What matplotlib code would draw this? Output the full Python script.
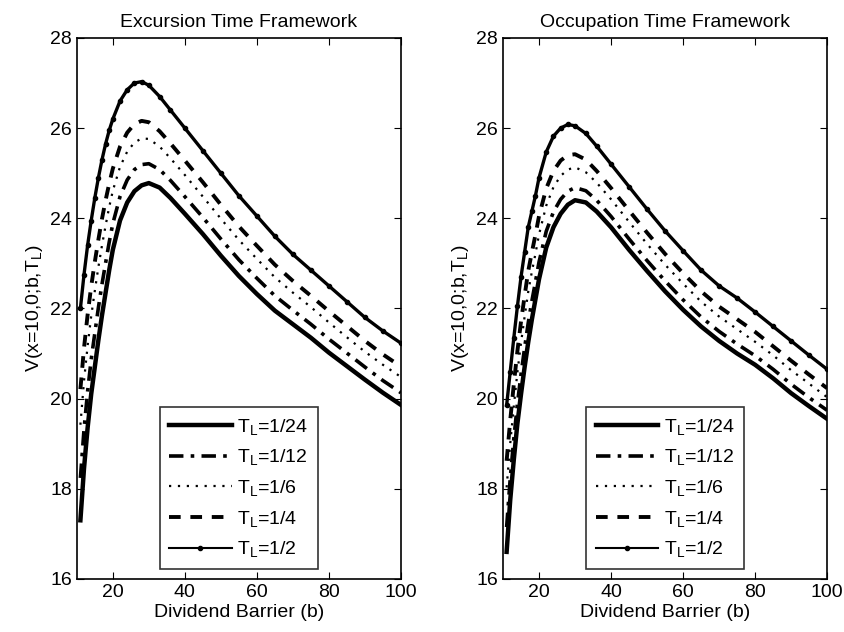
import matplotlib
matplotlib.use("Agg")
import matplotlib.pyplot as plt

plt.rcParams['font.family'] = ['Liberation Sans', 'DejaVu Sans']
plt.rcParams['mathtext.fontset'] = 'custom'
plt.rcParams['mathtext.rm'] = 'Liberation Sans'
plt.rcParams['mathtext.it'] = 'Liberation Sans:italic'

# dividend barrier values (x axis)
barrier = [11, 12, 13, 14, 15, 16, 17, 18, 19, 20, 22, 24, 26, 28, 30, 33, 36,
           40, 45, 50, 55, 60, 65, 70, 75, 80, 85, 90, 95, 100]

labels = ['1/24', '1/12', '1/6', '1/4', '1/2']

# excursion time framework, one list per T_L
exc_24 = [17.3, 18.45, 19.35, 20.1, 20.7, 21.3, 21.85, 22.35, 22.85, 23.3, 23.95, 24.35,
          24.6, 24.73, 24.78, 24.68, 24.45, 24.1, 23.65, 23.17, 22.72, 22.32, 21.95, 21.65,
          21.35, 21.02, 20.72, 20.42, 20.13, 19.86]
exc_12 = [18.24, 19.31, 20.16, 20.87, 21.45, 22.02, 22.54, 23.01, 23.47, 23.88, 24.48, 24.85,
          25.08, 25.19, 25.21, 25.08, 24.84, 24.48, 24.02, 23.54, 23.08, 22.67, 22.28, 21.96,
          21.65, 21.32, 21.01, 20.7, 20.4, 20.13]
exc_6 = [19.42, 20.39, 21.17, 21.83, 22.39, 22.92, 23.4, 23.84, 24.25, 24.61, 25.14, 25.48,
         25.68, 25.77, 25.76, 25.59, 25.33, 24.96, 24.48, 23.99, 23.52, 23.1, 22.69, 22.35,
         22.03, 21.69, 21.36, 21.04, 20.75, 20.48]
exc_4 = [20.21, 21.12, 21.86, 22.49, 23.03, 23.53, 23.99, 24.4, 24.77, 25.1, 25.59, 25.9,
         26.09, 26.16, 26.13, 25.93, 25.66, 25.28, 24.8, 24.3, 23.82, 23.39, 22.97, 22.61,
         22.28, 21.94, 21.61, 21.28, 20.98, 20.71]
exc_2 = [22.0, 22.75, 23.4, 23.95, 24.45, 24.9, 25.3, 25.65, 25.95, 26.2, 26.6, 26.85,
         27.0, 27.03, 26.95, 26.7, 26.4, 26.0, 25.5, 25.0, 24.5, 24.05, 23.6, 23.2,
         22.85, 22.5, 22.15, 21.8, 21.5, 21.23]

# occupation time framework
occ_24 = [16.6, 17.75, 18.65, 19.45, 20.1, 20.7, 21.25, 21.75, 22.2, 22.65, 23.35, 23.8,
          24.1, 24.3, 24.4, 24.35, 24.15, 23.8, 23.3, 22.83, 22.38, 21.97, 21.6, 21.28,
          21.0, 20.75, 20.45, 20.12, 19.83, 19.55]
occ_12 = [17.15, 18.23, 19.11, 19.89, 20.54, 21.13, 21.68, 22.16, 22.59, 23.03, 23.71, 24.14,
          24.42, 24.6, 24.68, 24.61, 24.4, 24.04, 23.54, 23.06, 22.61, 22.19, 21.81, 21.49,
          21.21, 20.95, 20.65, 20.32, 20.02, 19.74]
occ_6 = [18.03, 19.0, 19.84, 20.59, 21.24, 21.82, 22.37, 22.81, 23.21, 23.64, 24.28, 24.69,
         24.94, 25.08, 25.13, 25.02, 24.79, 24.42, 23.92, 23.43, 22.97, 22.55, 22.15, 21.82,
         21.54, 21.26, 20.96, 20.63, 20.33, 20.03]
occ_4 = [18.62, 19.52, 20.32, 21.06, 21.71, 22.28, 22.83, 23.24, 23.63, 24.05, 24.66, 25.05,
         25.28, 25.4, 25.42, 25.3, 25.05, 24.67, 24.17, 23.68, 23.21, 22.78, 22.38, 22.04,
         21.76, 21.48, 21.16, 20.84, 20.53, 20.23]
occ_2 = [19.85, 20.6, 21.35, 22.05, 22.7, 23.25, 23.8, 24.15, 24.5, 24.9, 25.47, 25.82,
         26.0, 26.08, 26.05, 25.88, 25.6, 25.2, 24.7, 24.2, 23.72, 23.28, 22.85, 22.5,
         22.23, 21.92, 21.6, 21.28, 20.96, 20.65]

styles = [
    dict(color='black', lw=3.2, ls='-'),
    dict(color='black', lw=2.6, dashes=(4, 2, 1, 2)),
    dict(color='black', lw=1.6, ls=(0, (1, 3))),
    dict(color='black', lw=2.8, dashes=(3, 2.5)),
    dict(color='black', lw=2.4, ls='-', marker='.', markersize=6),
]


def panel(ax, series, title):
    for ys, lab, st in zip(series, labels, styles):
        ax.plot(barrier, ys, label=r'T$_\mathrm{L}$=' + lab, **st)
    ax.set_xlim(10, 100)
    ax.set_ylim(16, 28)
    ax.set_xticks([20, 40, 60, 80, 100])
    ax.set_yticks(range(16, 29, 2))
    ax.tick_params(direction='in', top=True, right=True, labelsize=14, length=5)
    ax.set_title(title, fontsize=14, pad=8)
    ax.set_xlabel('Dividend Barrier (b)', fontsize=14, labelpad=2)
    ax.set_ylabel(r'V(x=10,0;b,T$_\mathrm{L}$)', fontsize=14, labelpad=4)
    leg = ax.legend(loc='lower center', fontsize=14, frameon=True, fancybox=False,
                    edgecolor='black', handlelength=3.2, borderaxespad=0.5, numpoints=1,
                    labelspacing=0.55, handletextpad=0.3, borderpad=0.5)
    leg.get_frame().set_linewidth(1.2)
    leg.get_lines()[4].set_linewidth(1.5)
    for s in ax.spines.values():
        s.set_linewidth(1.2)


fig = plt.figure(figsize=(8.44, 6.32), dpi=100)
ax1 = fig.add_axes([0.091, 0.084, 0.384, 0.856])
ax2 = fig.add_axes([0.596, 0.084, 0.384, 0.856])

panel(ax1, [exc_24, exc_12, exc_6, exc_4, exc_2], 'Excursion Time Framework')
panel(ax2, [occ_24, occ_12, occ_6, occ_4, occ_2], 'Occupation Time Framework')

fig.savefig('out.png', dpi=100)
